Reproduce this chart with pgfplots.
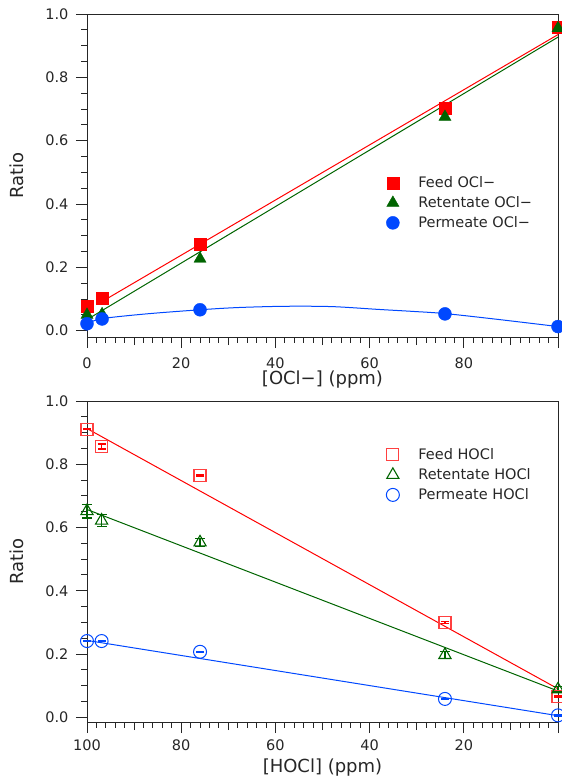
\documentclass[border=0pt]{standalone}
\usepackage{pgfplots}
\pgfplotsset{compat=1.18}
\usepackage{fontspec}
\setmainfont{DejaVu Sans}
\definecolor{cred}{RGB}{255,0,0}
\definecolor{cgreen}{RGB}{0,100,0}
\definecolor{cblue}{RGB}{0,72,255}
\pgfplotsset{
  lgmark/.style={legend image code/.code={\path[draw=none,fill=none] (-8pt,-2pt) rectangle (24pt,2pt); \draw[##1] plot coordinates {(0pt,0pt)};}},
  myaxis/.style={
    scale only axis, width=471pt,
    xmin=0, xmax=100, ymax=1.0,
    clip=false,
    axis line style={line width=0.9pt, black!85},
    every tick/.style={line width=0.9pt, black!85},
    tick align=outside, xtick pos=bottom, ytick pos=left,
    major tick length=11pt, minor tick length=5.5pt,
    xtick={0,20,40,60,80,100},
    minor x tick num=9,
    extra x ticks={10,30,50,70,90},
    extra x tick labels={},
    extra x tick style={major tick length=8pt},
    ytick={0,0.2,0.4,0.6,0.8,1.0},
    minor y tick num=3,
    yticklabel style={xshift=-4pt, /pgf/number format/.cd, fixed, fixed zerofill, precision=1},
    /pgf/number format/assume math mode=true,
    ticklabel style={font=\fontsize{14.5}{16}\selectfont, black!85},
    ylabel={Ratio},
    every axis y label/.style={at={(axis description cs:-0.1486,0.5)}, rotate=90, anchor=center,
      font=\fontsize{18}{20}\selectfont, black!85},
    legend cell align=left,
    legend style={draw=none, fill=none, inner sep=0pt, row sep=4.5pt,
      font=\fontsize{14.5}{16}\selectfont, text=black!85,
      nodes={inner sep=1.5pt}},
  }
}
\begin{document}
\begin{tikzpicture}
\useasboundingbox (0pt,0pt) rectangle (562pt,-779pt);
% ---------- top panel ----------
\begin{axis}[myaxis, at={(87pt,-337pt)}, anchor=south west, height=323pt,
  ymin=-0.02,
  xticklabels={0,20,40,60,80,{}},
  xticklabel style={yshift=-6pt},
  xlabel={[OCl−] (ppm)},
  every axis x label/.style={at={(axis description cs:0.5,-0.133)}, anchor=center,
    font=\fontsize{18}{20}\selectfont, black!85},
  legend style={at={(axis description cs:0.632,0.502)}, anchor=north west},
]
\addplot[cred, line width=1pt, forget plot] coordinates {(3.2,0.092) (100,0.935)};
\addplot[cgreen, line width=1pt, forget plot] coordinates {(0,0.035) (100,0.927)};
\addplot[cblue, line width=1pt, smooth, forget plot] coordinates {
  (0,0.022) (3.2,0.038) (12.6,0.053) (24,0.066) (32,0.073) (42,0.077) (52,0.076)
  (62,0.067) (69,0.061) (76,0.054) (87,0.036) (100,0.013)};
\addplot[only marks, mark=square*, mark size=6pt, color=cred, lgmark] coordinates {
  (0,0.077) (3.2,0.104) (24,0.274) (76,0.703) (100,0.958)};
\addlegendentry{Feed OCl−}
\addplot[only marks, mark=triangle*, mark size=7pt, color=cgreen, lgmark] coordinates {
  (0,0.05) (3.2,0.052) (24,0.227) (76,0.675) (100,0.955)};
\addlegendentry{Retentate OCl−}
\addplot[only marks, mark=*, mark size=6.5pt, color=cblue, lgmark] coordinates {
  (0,0.022) (3.2,0.037) (24,0.066) (76,0.053) (100,0.013)};
\addlegendentry{Permeate OCl−}
\end{axis}
% ---------- bottom panel ----------
\begin{axis}[myaxis, at={(87pt,-722pt)}, anchor=south west, height=321pt,
  ymin=-0.015, x dir=reverse,
  xticklabels={{},20,40,60,80,100},
  xticklabel style={yshift=-3pt},
  xlabel={[HOCl] (ppm)},
  every axis x label/.style={at={(axis description cs:0.5,-0.142)}, anchor=center,
    font=\fontsize{18}{20}\selectfont, black!85},
  legend style={at={(axis description cs:0.632,0.857)}, anchor=north west},
]
\addplot[cred, line width=1pt, forget plot] coordinates {(100,0.913) (0,0.09)};
\addplot[cgreen, line width=1pt, forget plot] coordinates {(100,0.657) (0,0.083)};
\addplot[cblue, line width=1pt, forget plot] coordinates {(100,0.243) (0,0.005)};
\addplot[only marks, mark=square, mark size=6pt, color=cred!75, line width=1.2pt, lgmark,
  error bars/.cd, y dir=both, y explicit,
  error bar style={cred, line width=1.2pt}, error mark options={cred, mark size=4pt, line width=1.2pt, rotate=90}]
  coordinates {
  (100,0.911) +- (0,0.002) (96.9,0.856) +- (0,0.008) (76,0.764) +- (0,0.002)
  (24,0.300) +- (0,0.004) (0,0.066) +- (0,0.002)};
\addlegendentry{Feed HOCl}
\addplot[only marks, mark=triangle, mark size=7pt, color=cgreen, line width=1.1pt, lgmark,
  error bars/.cd, y dir=both, y explicit,
  error bar style={cgreen, line width=1.1pt}, error mark options={cgreen, mark size=5pt, line width=1.1pt, rotate=90}]
  coordinates {
  (100,0.652) +- (0,0.022) (96.9,0.622) +- (0,0.02) (76,0.553) +- (0,0.012)
  (24,0.197) +- (0,0.012) (0,0.088) +- (0,0.008)};
\addlegendentry{Retentate HOCl}
\addplot[only marks, mark=o, mark size=6.5pt, color=cblue, line width=1pt, lgmark,
  error bars/.cd, y dir=both, y explicit,
  error bar style={cblue, line width=1.2pt}, error mark options={cblue, mark size=4pt, line width=1.2pt, rotate=90}]
  coordinates {
  (100,0.241) +- (0,0.002) (96.9,0.241) +- (0,0.002) (76,0.207) +- (0,0.002)
  (24,0.058) +- (0,0.002) (0,0.006) +- (0,0.002)};
\addlegendentry{Permeate HOCl}
\end{axis}
\end{tikzpicture}
\end{document}
